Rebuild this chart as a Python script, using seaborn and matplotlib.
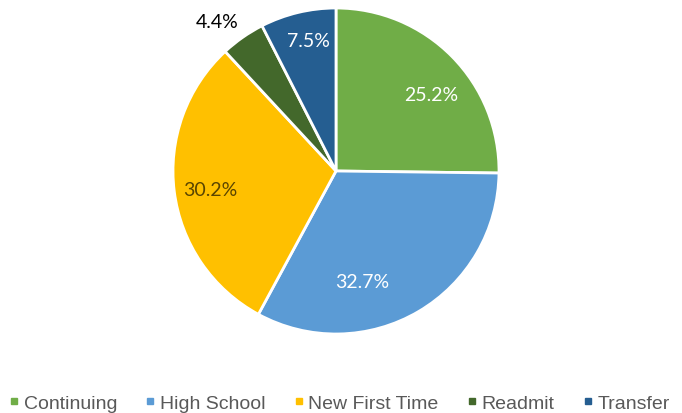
import numpy as np
import matplotlib
matplotlib.use("Agg")
import matplotlib.pyplot as plt
from matplotlib.lines import Line2D
import seaborn as sns

categories = ["Continuing", "High School", "New First Time", "Readmit", "Transfer"]
shares = [25.2, 32.7, 30.2, 4.4, 7.5]
colors = ["#70AD47", "#5B9BD5", "#FFC000", "#43682B", "#255E91"]
label_colors = ["white", "white", "#5A4500", "black", "white"]
# radial distance (fraction of radius) and angular nudge (degrees) for each label
label_radius = [0.75, 0.70, 0.78, 1.17, 0.82]
label_nudge = [-6.0, -17.0, 1.0, 3.5, -1.5]

sns.set_theme(style="white")
plt.rcParams["font.family"] = ["Liberation Sans", "DejaVu Sans"]

fig = plt.figure(figsize=(6.82, 4.14), dpi=100)
ax = fig.add_axes([173 / 682, (414 - 335) / 414, 326 / 682, 326 / 414])

wedges, _ = ax.pie(
    shares,
    colors=colors,
    startangle=90,
    counterclock=False,
    radius=1.0,
    wedgeprops=dict(edgecolor="white", linewidth=2),
)
ax.set_xlim(-1, 1)
ax.set_ylim(-1, 1)
ax.set_aspect("equal")
ax.axis("off")

for w, val, col, r, dth in zip(wedges, shares, label_colors, label_radius, label_nudge):
    mid = np.deg2rad((w.theta1 + w.theta2) / 2 + dth)
    ax.text(r * np.cos(mid), r * np.sin(mid), f"{val:.1f}%",
            ha="center", va="center", color=col, fontsize=14,
            family=["Lato", "DejaVu Sans"])

handles = [Line2D([0], [0], marker="s", linestyle="none", markersize=4,
                  markerfacecolor=c, markeredgecolor=c) for c in colors]
fig.legend(handles, categories, loc="center", bbox_to_anchor=(339 / 682, (414 - 404) / 414),
           ncol=5, frameon=False, fontsize=14, labelcolor="#595959",
           handlelength=0.6, handletextpad=0.2, columnspacing=1.4, borderaxespad=0,
           borderpad=0)

fig.savefig("out.png", dpi=100, facecolor="white")
